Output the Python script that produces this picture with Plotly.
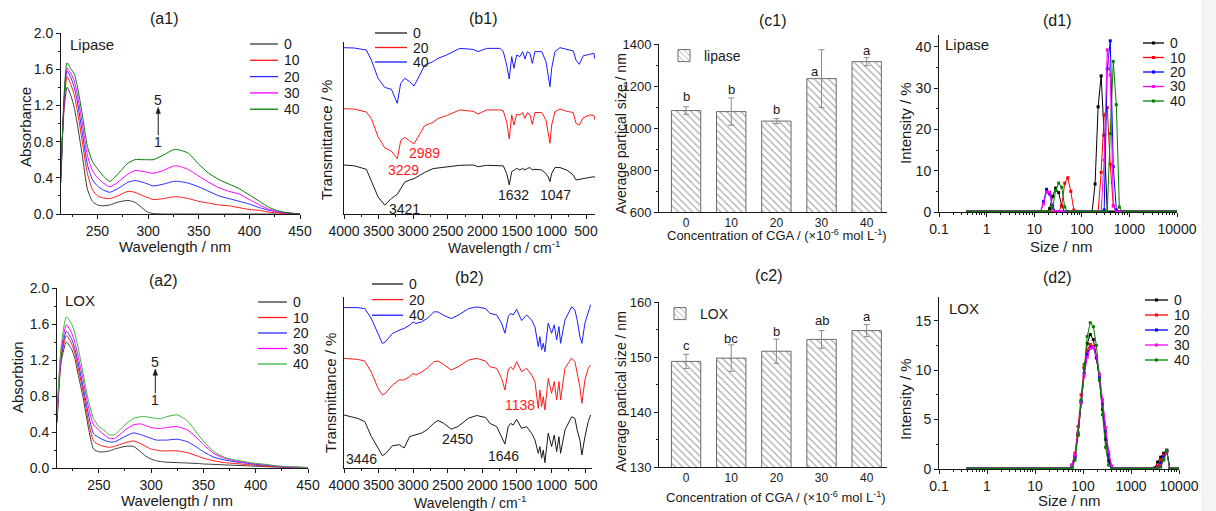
import plotly.graph_objects as go

W, H = 1216, 511
FONT = "Liberation Sans Narrow, Arial Narrow, Liberation Sans, Arial, sans-serif"
INK = "#1a1a1a"


def fx(px):
    return px / W


def fy(py):
    return 1 - py / H


# ------------------------------------------------------------------ data
SERIES5 = ["0", "10", "20", "30", "40"]
SERIES3 = ["0", "20", "40"]
CONC = ["0", "10", "20", "30", "40"]

# (a1) UV-vis, lipase
WL1 = [214, 217, 220, 224, 227, 230, 235, 240, 245, 250, 255, 262, 270, 280, 287, 295, 300, 305,
       315, 325, 330, 340, 350, 360, 370, 380, 390, 400, 410, 420, 430, 440, 450]
A1_0 = [0.55, 1.15, 1.40, 1.30, 1.18, 1.00, 0.65, 0.28, 0.14, 0.10, 0.09, 0.10, 0.13, 0.15, 0.13, 0.06, 0.02, 0.005,
        0, 0, 0, 0, 0, 0, 0, 0, 0, 0, 0, 0, 0, 0, 0]
A1_10 = [0.50, 1.20, 1.52, 1.42, 1.32, 1.15, 0.80, 0.45, 0.27, 0.20, 0.18, 0.17, 0.20, 0.25, 0.24, 0.20, 0.18, 0.16,
         0.17, 0.19, 0.19, 0.17, 0.14, 0.12, 0.10, 0.09, 0.07, 0.05, 0.04, 0.02, 0.01, 0.005, 0.0]
A1_20 = [0.45, 1.25, 1.58, 1.50, 1.40, 1.25, 0.90, 0.55, 0.38, 0.31, 0.27, 0.24, 0.28, 0.35, 0.37, 0.35, 0.33, 0.31,
         0.33, 0.36, 0.36, 0.34, 0.30, 0.25, 0.20, 0.17, 0.14, 0.11, 0.07, 0.04, 0.02, 0.01, 0.0]
A1_30 = [0.40, 1.25, 1.61, 1.55, 1.47, 1.33, 1.00, 0.65, 0.48, 0.40, 0.35, 0.30, 0.35, 0.44, 0.48, 0.47, 0.46, 0.45,
         0.48, 0.53, 0.53, 0.49, 0.42, 0.35, 0.29, 0.25, 0.22, 0.16, 0.10, 0.05, 0.02, 0.01, 0.0]
A1_40 = [0.35, 1.30, 1.67, 1.60, 1.55, 1.42, 1.10, 0.75, 0.58, 0.50, 0.43, 0.36, 0.44, 0.56, 0.60, 0.60, 0.60, 0.60,
         0.65, 0.71, 0.71, 0.67, 0.55, 0.45, 0.38, 0.33, 0.28, 0.21, 0.14, 0.07, 0.03, 0.01, 0.0]

# (a2) UV-vis, LOX
WL2 = [210, 214, 219, 224, 227, 230, 235, 240, 245, 250, 255, 260, 265, 275, 283, 290, 295, 300, 305, 310,
       315, 325, 335, 345, 350, 360, 370, 380, 390, 400, 410, 420, 430, 440, 450]
A2_0 = [0.50, 1.18, 1.40, 1.32, 1.22, 1.05, 0.78, 0.45, 0.21, 0.18, 0.18, 0.19, 0.21, 0.24, 0.24, 0.18, 0.13, 0.10,
        0.08, 0.07, 0.065, 0.06, 0.055, 0.05, 0.045, 0.04, 0.035, 0.03, 0.025, 0.02, 0.015, 0.01, 0.008, 0.006, 0.005]
A2_10 = [0.52, 1.22, 1.47, 1.38, 1.28, 1.12, 0.85, 0.52, 0.30, 0.26, 0.24, 0.23, 0.24, 0.28, 0.30, 0.27, 0.24, 0.21,
         0.20, 0.19, 0.19, 0.19, 0.17, 0.13, 0.11, 0.08, 0.06, 0.05, 0.04, 0.03, 0.02, 0.015, 0.01, 0.007, 0.005]
A2_20 = [0.55, 1.25, 1.52, 1.43, 1.33, 1.18, 0.90, 0.60, 0.38, 0.34, 0.31, 0.29, 0.29, 0.35, 0.39, 0.37, 0.35, 0.33,
         0.31, 0.31, 0.31, 0.32, 0.29, 0.22, 0.18, 0.12, 0.09, 0.07, 0.055, 0.04, 0.03, 0.02, 0.01, 0.008, 0.005]
A2_30 = [0.58, 1.30, 1.59, 1.50, 1.40, 1.25, 0.98, 0.68, 0.48, 0.42, 0.37, 0.33, 0.33, 0.42, 0.48, 0.49, 0.47, 0.45,
         0.44, 0.44, 0.45, 0.46, 0.42, 0.32, 0.26, 0.16, 0.11, 0.08, 0.06, 0.05, 0.035, 0.02, 0.01, 0.008, 0.005]
A2_40 = [0.60, 1.35, 1.68, 1.60, 1.50, 1.35, 1.05, 0.75, 0.55, 0.46, 0.42, 0.37, 0.37, 0.48, 0.55, 0.57, 0.57, 0.56,
         0.55, 0.55, 0.57, 0.59, 0.52, 0.37, 0.30, 0.18, 0.12, 0.09, 0.07, 0.05, 0.04, 0.025, 0.015, 0.01, 0.005]

# (b1) FTIR, lipase (relative transmittance, offset curves)
B1_WN = [4000, 3850, 3677, 3604, 3508, 3411, 3314, 3229, 3180, 3121,
         3049, 2989, 2904, 2832, 2711, 2640, 2518, 2325, 2132, 2060,
         1938, 1889, 1745, 1696, 1647, 1610, 1575, 1542, 1503, 1455,
         1416, 1383, 1349, 1310, 1277, 1238, 1141, 1079, 1046, 1021,
         997, 949, 877, 780, 684, 645, 597, 540, 443, 385, 370]
B1_0 = [28.5, 28.0, 26.0, 19.5, 10.0, 5.2, 9.0, 11.5, 15.0, 18.6,
        19.8, 20.5, 22.5, 24.2, 26.4, 26.8, 27.3, 28.3, 28.5, 27.5,
        28.3, 28.2, 28.1, 28.0, 23.5, 16.9, 24.6, 25.6, 26.5, 25.6,
        26.5, 25.6, 26.5, 27.0, 25.6, 26.0, 25.6, 23.5, 21.5, 18.8,
        23.5, 27.0, 27.0, 25.6, 22.7, 19.8, 20.2, 20.7, 21.5, 21.7, 21.1]
B1_20 = [61.2, 61.0, 59.3, 55.5, 45.0, 38.5, 36.5, 32.2, 42.6, 44.6,
         42.5, 40.7, 46.5, 51.4, 53.3, 55.5, 57.2, 60.5, 59.7, 58.1,
         60.5, 60.5, 60.5, 60.0, 53.5, 43.6, 57.6, 51.7, 58.0, 57.6,
         59.0, 55.6, 59.0, 57.6, 52.1, 59.0, 59.0, 54.6, 47.9, 41.1,
         51.7, 59.5, 61.0, 59.7, 59.0, 52.7, 51.7, 56.0, 57.6, 57.2, 54.6]
B1_40 = [96.7, 96.5, 95.3, 89.5, 78.9, 73.6, 72.5, 64.3, 76.0, 78.9,
         76.9, 74.4, 80.8, 86.6, 88.6, 90.5, 92.4, 96.3, 95.7, 94.4,
         96.3, 96.3, 96.3, 94.4, 86.6, 78.5, 91.5, 84.7, 92.4, 91.5,
         94.4, 90.1, 94.4, 93.4, 87.6, 94.4, 94.4, 88.6, 80.8, 74.0,
         84.7, 94.4, 96.7, 95.9, 94.8, 89.5, 87.0, 92.0, 92.8, 93.4, 90.0]

# (b2) FTIR, LOX
B2_WN = [4000, 3800, 3700, 3604, 3508, 3445, 3400, 3300, 3200, 3130,
         3050, 3001, 2960, 2880, 2800, 2700, 2640, 2560, 2450, 2350,
         2200, 2080, 1950, 1889, 1792, 1720, 1672, 1624, 1590, 1552,
         1503, 1431, 1358, 1286, 1238, 1190, 1166, 1142, 1118, 1094,
         1046, 997, 959, 924, 891, 867, 804, 707, 660, 627,
         588, 559, 515, 467, 433]
B2_0 = [31.0, 29.0, 27.2, 18.4, 11.7, 7.2, 8.3, 13.0, 13.6, 11.7,
        18.4, 19.0, 19.4, 20.4, 22.3, 26.2, 27.8, 26.2, 22.7, 24.3,
        29.1, 30.7, 29.5, 26.1, 24.2, 18.3, 14.0, 24.2, 26.1, 25.1,
        28.5, 23.2, 24.2, 20.3, 16.4, 8.6, 12.5, 5.7, 10.5, 3.1,
        20.3, 12.5, 19.3, 9.6, 18.3, 8.6, 22.2, 30.0, 29.0, 22.2,
        16.4, 7.6, 18.3, 27.1, 31.0]
B2_20 = [64.1, 63.5, 62.5, 56.0, 46.6, 42.7, 43.7, 48.5, 51.5, 51.5,
         53.4, 55.3, 54.4, 56.0, 58.3, 62.1, 62.5, 60.6, 57.3, 59.2,
         63.1, 64.1, 62.5, 59.2, 58.3, 52.4, 45.6, 57.3, 59.2, 57.5,
         62.2, 56.3, 58.3, 54.4, 50.5, 34.9, 45.6, 35.8, 41.7, 33.9,
         52.4, 43.7, 50.5, 39.8, 50.5, 39.8, 58.3, 64.2, 62.2, 56.3,
         47.5, 37.8, 51.5, 58.3, 60.2]
B2_40 = [93.8, 93.8, 93.2, 87.4, 78.6, 72.8, 73.8, 78.6, 80.6, 81.6,
         83.5, 85.4, 84.5, 85.4, 87.4, 91.3, 91.3, 89.3, 87.4, 89.3,
         93.2, 94.2, 93.2, 90.4, 89.5, 84.7, 78.8, 88.5, 90.4, 89.5,
         92.8, 86.2, 89.5, 86.5, 82.6, 71.0, 76.8, 69.0, 72.9, 68.0,
         84.7, 78.8, 83.7, 75.0, 82.7, 72.9, 86.5, 94.3, 92.4, 86.5,
         76.8, 72.9, 84.7, 91.6, 95.5]

# (c1)/(c2) average particle size
C1_VAL = [1083, 1078, 1033, 1235, 1316]
C1_ERR = [18, 65, 12, 138, 19]
C1_LET = ["b", "b", "b", "a", "a"]
C1_LET_Y = [1148, 1183, 1088, 1271, 1371]
C2_VAL = [149.2, 149.8, 151.05, 153.2, 154.8]
C2_ERR = [1.3, 2.4, 2.2, 1.6, 1.1]
C2_LET = ["c", "bc", "b", "ab", "a"]
C2_LET_Y = [152.1, 153.4, 154.6, 156.6, 157.4]

# (d1)/(d2) DLS size distributions
SIZES = [0.4, 0.4632, 0.5365, 0.6213, 0.7195, 0.8332, 0.9649, 1.117, 1.294, 1.499,
         1.736, 2.01, 2.328, 2.696, 3.122, 3.615, 4.187, 4.849, 5.615, 6.503,
         7.531, 8.721, 10.1, 11.7, 13.54, 15.69, 18.17, 21.04, 24.36, 28.21,
         32.67, 37.84, 43.82, 50.75, 58.77, 68.06, 78.82, 91.28, 105.7, 122.4,
         141.8, 164.2, 190.1, 220.2, 255.0, 295.3, 342.0, 396.1, 458.7, 531.2,
         615.1, 712.4, 825.0, 955.4, 1106, 1281, 1484, 1718, 1990, 2305,
         2669, 3091, 3580, 4145, 4801, 5560, 6439, 7456, 8635, 10000]
D1_0 = [0, 0, 0, 0, 0, 0, 0, 0, 0, 0,
        0, 0, 0, 0, 0, 0, 0, 0, 0, 0,
        0, 0, 0, 0, 0, 0, 0, 0.8, 3.8, 5.8,
        4.7, 1.5, 0, 0, 0, 0, 0, 0, 0, 0,
        0, 0, 6.8, 25.5, 33.0, 18.6, 0, 0, 0, 0,
        0, 0, 0, 0, 0, 0, 0, 0, 0, 0,
        0, 0, 0, 0, 0, 0, 0, 0, 0, 0]
D1_10 = [0, 0, 0, 0, 0, 0, 0, 0, 0, 0,
         0, 0, 0, 0, 0, 0, 0, 0, 0, 0,
         0, 0, 0, 0, 0, 0, 0, 0, 0, 0,
         0, 1.5, 7.0, 8.3, 5.0, 0.5, 0, 0, 0, 0,
         0, 0, 0, 0, 9.6, 23.5, 25.3, 11.6, 1.5, 0,
         0, 0, 0, 0, 0, 0, 0, 0, 0, 0,
         0, 0, 0, 0, 0, 0, 0, 0, 0, 0]
D1_20 = [0, 0, 0, 0, 0, 0, 0, 0, 0, 0,
         0, 0, 0, 0, 0, 0, 0, 0, 0, 0,
         0, 0, 0, 0, 0, 2.5, 5.5, 4.4, 1.5, 0,
         0, 0, 0, 0, 0, 0, 0, 0, 0, 0,
         0, 0, 0, 0, 0, 0.5, 34.7, 41.5, 11.0, 0.5,
         0, 0, 0, 0, 0, 0, 0, 0, 0, 0,
         0, 0, 0, 0, 0, 0, 0, 0, 0, 0]
D1_30 = [0, 0, 0, 0, 0, 0, 0, 0, 0, 0,
         0, 0, 0, 0, 0, 0, 0, 0, 0, 0,
         0, 0, 0, 0, 0, 2.0, 4.8, 4.8, 0.8, 0,
         0, 0, 0, 0, 0, 0, 0, 0, 0, 0,
         0, 0, 0, 0, 0, 12.6, 39.3, 33.2, 1.5, 0,
         0, 0, 0, 0, 0, 0, 0, 0, 0, 0,
         0, 0, 0, 0, 0, 0, 0, 0, 0, 0]
D1_40 = [0, 0, 0, 0, 0, 0, 0, 0, 0, 0,
         0, 0, 0, 0, 0, 0, 0, 0, 0, 0,
         0, 0, 0, 0, 0, 0, 0, 0, 1.0, 5.2,
         7.0, 6.0, 1.2, 0, 0, 0, 0, 0, 0, 0,
         0, 0, 0, 0, 0, 0, 0, 19.0, 36.5, 26.0,
         1.2, 0, 0, 0, 0, 0, 0, 0, 0, 0,
         0, 0, 0, 0, 0, 0, 0, 0, 0, 0]
D2_0 = [0, 0, 0, 0, 0, 0, 0, 0, 0, 0,
        0, 0, 0, 0, 0, 0, 0, 0, 0, 0,
        0, 0, 0, 0, 0, 0, 0, 0, 0, 0,
        0, 0, 0, 0, 0.2, 1.2, 3.5, 6.8, 10.2, 12.7,
        13.6, 13.1, 11.4, 9.0, 6.0, 3.0, 0.8, 0, 0, 0,
        0, 0, 0, 0, 0, 0, 0, 0, 0, 0,
        0, 0.1, 0.7, 1.2, 1.6, 1.9, 0, 0, 0, 0]
D2_10 = [0, 0, 0, 0, 0, 0, 0, 0, 0, 0,
         0, 0, 0, 0, 0, 0, 0, 0, 0, 0,
         0, 0, 0, 0, 0, 0, 0, 0, 0, 0,
         0, 0, 0, 0, 0.4, 1.6, 4.3, 7.5, 10.3, 12.0,
         12.6, 12.4, 11.2, 9.2, 6.6, 3.8, 1.4, 0.2, 0, 0,
         0, 0, 0, 0, 0, 0, 0, 0, 0, 0,
         0, 0, 0.3, 0.9, 1.4, 1.8, 0, 0, 0, 0]
D2_20 = [0, 0, 0, 0, 0, 0, 0, 0, 0, 0,
         0, 0, 0, 0, 0, 0, 0, 0, 0, 0,
         0, 0, 0, 0, 0, 0, 0, 0, 0, 0,
         0, 0, 0, 0, 0.3, 1.3, 3.6, 6.8, 9.7, 11.6,
         12.3, 12.3, 11.3, 9.3, 6.6, 3.8, 1.4, 0.2, 0, 0,
         0, 0, 0, 0, 0, 0, 0, 0, 0, 0,
         0, 0, 0, 0.6, 1.2, 1.8, 0, 0, 0, 0]
D2_30 = [0, 0, 0, 0, 0, 0, 0, 0, 0, 0,
         0, 0, 0, 0, 0, 0, 0, 0, 0, 0,
         0, 0, 0, 0, 0, 0, 0, 0, 0, 0,
         0, 0, 0, 0, 0.4, 1.5, 3.7, 6.7, 9.4, 11.3,
         12.2, 12.3, 11.5, 9.6, 7.0, 4.2, 1.7, 0.3, 0, 0,
         0, 0, 0, 0, 0, 0, 0, 0, 0, 0,
         0, 0, 0, 0.3, 1.0, 1.7, 0, 0, 0, 0]
D2_40 = [0, 0, 0, 0, 0, 0, 0, 0, 0, 0,
         0, 0, 0, 0, 0, 0, 0, 0, 0, 0,
         0, 0, 0, 0, 0, 0, 0, 0, 0, 0,
         0, 0, 0, 0, 0.1, 0.9, 3.4, 7.0, 10.6, 13.4,
         14.8, 14.4, 12.5, 9.0, 5.5, 2.2, 0.4, 0, 0, 0,
         0, 0, 0, 0, 0, 0, 0, 0, 0, 0,
         0, 0, 0, 0.2, 0.9, 1.9, 0, 0, 0, 0]

# ------------------------------------------------------------------ styles
UV1_COL = ["#3a3a3a", "#ff1a1a", "#2b2bff", "#ff00ff", "#007d00"]
UV2_COL = ["#3a3a3a", "#ff1a1a", "#2b2bff", "#ff00ff", "#3cb83c"]
IR_COL = ["#1a1a1a", "#ff1a1a", "#1a1aff"]
DLS_COL = ["#000000", "#ff0000", "#0000ff", "#ff00ff", "#008000"]

fig = go.Figure()

for ys, col, nm in zip([A1_0, A1_10, A1_20, A1_30, A1_40], UV1_COL, SERIES5):
    fig.add_trace(go.Scatter(x=WL1, y=ys, mode="lines", line=dict(color=col, width=1, shape="spline", smoothing=0.6),
                             name=nm, showlegend=False, xaxis="x", yaxis="y"))
for ys, col, nm in zip([B1_0, B1_20, B1_40], IR_COL, SERIES3):
    fig.add_trace(go.Scatter(x=B1_WN, y=ys, mode="lines", line=dict(color=col, width=1),
                             name=nm, showlegend=False, xaxis="x2", yaxis="y2"))
BAR_MARKER = dict(color="white", line=dict(color="#6a6a6a", width=1),
                  pattern=dict(shape="\\", fgcolor="#4a4a4a", bgcolor="white", size=5, solidity=0.22))
fig.add_trace(go.Bar(x=CONC, y=C1_VAL, width=0.65, name="lipase", legend="legend", showlegend=True,
                     error_y=dict(type="data", array=C1_ERR, color="#8c8c8c", thickness=1, width=3),
                     marker=BAR_MARKER, xaxis="x3", yaxis="y3"))
for ys, col, nm in zip([D1_0, D1_10, D1_20, D1_30, D1_40], DLS_COL, SERIES5):
    fig.add_trace(go.Scatter(x=SIZES, y=ys, mode="lines+markers", line=dict(color=col, width=1),
                             marker=dict(symbol="square", size=3, color=col),
                             name=nm, showlegend=False, xaxis="x4", yaxis="y4"))
for ys, col, nm in zip([A2_0, A2_10, A2_20, A2_30, A2_40], UV2_COL, SERIES5):
    fig.add_trace(go.Scatter(x=WL2, y=ys, mode="lines", line=dict(color=col, width=1, shape="spline", smoothing=0.6),
                             name=nm, showlegend=False, xaxis="x5", yaxis="y5"))
for ys, col, nm in zip([B2_0, B2_20, B2_40], IR_COL, SERIES3):
    fig.add_trace(go.Scatter(x=B2_WN, y=ys, mode="lines", line=dict(color=col, width=1),
                             name=nm, showlegend=False, xaxis="x6", yaxis="y6"))
fig.add_trace(go.Bar(x=CONC, y=C2_VAL, width=0.65, name="LOX", legend="legend2", showlegend=True,
                     error_y=dict(type="data", array=C2_ERR, color="#8c8c8c", thickness=1, width=3),
                     marker=BAR_MARKER, xaxis="x7", yaxis="y7"))
for ys, col, nm in zip([D2_0, D2_10, D2_20, D2_30, D2_40], DLS_COL, SERIES5):
    fig.add_trace(go.Scatter(x=SIZES, y=ys, mode="lines+markers", line=dict(color=col, width=1),
                             marker=dict(symbol="square", size=3, color=col),
                             name=nm, showlegend=False, xaxis="x8", yaxis="y8"))

TICKFONT = dict(family=FONT, size=14, color=INK)
SMALLTICK = dict(family=FONT, size=13, color=INK)
CATTICK = dict(family=FONT, size=12, color=INK)


def ax(xdom, rng, anchor, **kw):
    d = dict(domain=xdom, range=rng, anchor=anchor, showline=True, linecolor=INK, linewidth=1,
             ticks="outside", ticklen=4, tickwidth=1, tickcolor=INK, showgrid=False, zeroline=False,
             tickfont=TICKFONT, mirror=False, automargin=False)
    d.update(kw)
    return d


def mnr(dt):
    return dict(dtick=dt, ticks="outside", ticklen=2, tickwidth=1, tickcolor=INK)


LOG_MAJOR = [0.1, 1, 10, 100, 1000, 10000]
LOG_TEXT = ["0.1", "1", "10", "100", "1000", "10000"]
LOG_MINOR = [m * 10 ** e for e in range(-1, 4) for m in range(2, 10)]
logminor = dict(tickmode="array", tickvals=LOG_MINOR, ticks="outside", ticklen=2, tickwidth=1, tickcolor=INK)

layout = dict(
    width=W, height=H, margin=dict(l=0, r=0, t=0, b=0, pad=0), autosize=False,
    paper_bgcolor="white", plot_bgcolor="white", showlegend=True,
    font=dict(family=FONT, size=14, color=INK),
    # row 1
    xaxis=ax([fx(61), fx(300)], [214, 450], "y", dtick=50, tick0=0, minor=mnr(25)),
    yaxis=ax([fy(214), fy(33)], [0, 2], "x", dtick=0.4, tick0=0, tickformat=".1f", minor=mnr(0.2)),
    xaxis2=ax([fx(344), fx(595)], [4000, 370], "y2", dtick=500, tick0=0, minor=mnr(250)),
    yaxis2=ax([fy(214), fy(42)], [0, 100], "x2", ticks="", showticklabels=False),
    xaxis3=ax([fx(659), fx(887)], [-0.6, 4.45], "y3", type="category", ticks="", tickfont=CATTICK),
    yaxis3=ax([fy(212), fy(44)], [600, 1400], "x3", dtick=200, tick0=0, minor=mnr(100), tickfont=SMALLTICK),
    xaxis4=ax([fx(939), fx(1177)], [-1, 4], "y4", type="log", tickmode="array", tickvals=LOG_MAJOR,
              ticktext=LOG_TEXT, minor=logminor),
    yaxis4=ax([fy(212), fy(35)], [0, 42.9], "x4", dtick=10, tick0=0, minor=mnr(5)),
    # row 2
    xaxis5=ax([fx(57), fx(308)], [210, 450], "y5", dtick=50, tick0=0, minor=mnr(25)),
    yaxis5=ax([fy(468), fy(288)], [0, 2], "x5", dtick=0.4, tick0=0, tickformat=".1f", minor=mnr(0.2)),
    xaxis6=ax([fx(344), fx(591.5)], [4000, 420], "y6", dtick=500, tick0=0, minor=mnr(250)),
    yaxis6=ax([fy(468), fy(297)], [0, 100], "x6", ticks="", showticklabels=False),
    xaxis7=ax([fx(659), fx(887)], [-0.6, 4.45], "y7", type="category", ticks="", tickfont=CATTICK),
    yaxis7=ax([fy(467), fy(302)], [130, 160], "x7", dtick=10, tick0=0, minor=mnr(5), tickfont=SMALLTICK),
    xaxis8=ax([fx(939), fx(1179)], [-1, 4], "y8", type="log", tickmode="array", tickvals=LOG_MAJOR,
              ticktext=LOG_TEXT, minor=logminor),
    yaxis8=ax([fy(469), fy(297)], [0, 17.4], "x8", dtick=5, tick0=0, minor=mnr(2.5)),
    legend=dict(x=fx(664), y=fy(40), xanchor="left", yanchor="top", bgcolor="rgba(0,0,0,0)",
                font=dict(family=FONT, size=14, color=INK), itemwidth=30),
    legend2=dict(x=fx(660), y=fy(298), xanchor="left", yanchor="top", bgcolor="rgba(0,0,0,0)",
                 font=dict(family=FONT, size=14, color=INK), itemwidth=30),
)

shapes = [dict(type="rect", xref="paper", yref="paper", x0=fx(1201), x1=1, y0=0, y1=1,
               fillcolor="#f4f4f4", line=dict(width=0), layer="below")]
annotations = []


def note(x, y, text, size=14, color=INK, xanchor="center", yanchor="middle", angle=0, xref="paper", yref="paper",
         xshift=0):
    annotations.append(dict(x=x, y=y, xref=xref, yref=yref, text=text, showarrow=False, xanchor=xanchor,
                            yanchor=yanchor, textangle=angle, xshift=xshift,
                            font=dict(family=FONT, size=size, color=color)))


def line_legend(x0, y0, dy, length, labels, colors, markers=False):
    for i, (lab, col) in enumerate(zip(labels, colors)):
        yy = y0 + i * dy
        shapes.append(dict(type="line", xref="paper", yref="paper", x0=fx(x0), x1=fx(x0 + length),
                           y0=fy(yy), y1=fy(yy), line=dict(color=col, width=1.3)))
        if markers:
            c = x0 + length / 2
            shapes.append(dict(type="rect", xref="paper", yref="paper", x0=fx(c - 1.5), x1=fx(c + 1.5),
                               y0=fy(yy + 1.5), y1=fy(yy - 1.5), fillcolor=col, line=dict(width=0)))
        note(fx(x0 + length + 4), fy(yy), lab, xanchor="left")


# legends
line_legend(250, 44, 16.3, 28, SERIES5, UV1_COL)
line_legend(375, 33, 14.5, 32, SERIES3, IR_COL)
line_legend(1143, 43, 14.5, 21, SERIES5, DLS_COL, markers=True)
line_legend(258, 302, 15.5, 29, SERIES5, UV2_COL)
line_legend(372, 284, 15.6, 31, SERIES3, IR_COL)
line_legend(1145, 300, 15, 23, SERIES5, DLS_COL, markers=True)

# panel titles
for lab, px, py in [("(a1)", 164, 18), ("(b1)", 483, 18), ("(c1)", 773, 20), ("(d1)", 1057, 20),
                    ("(a2)", 163, 280), ("(b2)", 469, 277), ("(c2)", 769, 275), ("(d2)", 1057, 277)]:
    note(fx(px), fy(py), lab, size=16)

# in-panel labels
note(fx(68), fy(44), "Lipase", size=15, xanchor="left")
note(fx(63), fy(300), "LOX", size=15, xanchor="left")
note(fx(943), fy(44), "Lipase", size=15, xanchor="left")
note(fx(947), fy(308), "LOX", size=15, xanchor="left")

# axis titles
XT = "Wavelength / nm"
note(fx(175), fy(246), XT, size=15)
note(fx(177), fy(500), XT, size=15)
note(fx(504), fy(247), "Wavelength / cm<sup>-1</sup>", size=14)
note(fx(470), fy(502), "Wavelength / cm<sup>-1</sup>", size=14)
CX = "Concentration of CGA / (×10<sup>-6</sup> mol L<sup>-1</sup>)"
note(fx(777), fy(235), CX, size=13)
note(fx(776), fy(497), CX, size=13)
note(fx(1061), fy(246), "Size / nm", size=15)
note(fx(1069), fy(500), "Size / nm", size=15)
note(fx(25), fy(127), "Absorbance", size=15, angle=-90)
note(fx(17), fy(377), "Absorbtion", size=15, angle=-90)
note(fx(326), fy(140), "Transmittance / %", size=15, angle=-90)
note(fx(330), fy(393), "Transmittance / %", size=15, angle=-90)
note(fx(621), fy(134), "Average partical size / nm", size=14, angle=-90)
note(fx(621), fy(392), "Average partical size / nm", size=14, angle=-90)
note(fx(905), fy(123), "Intensity / %", size=15, angle=-90)
note(fx(905), fy(399), "Intensity / %", size=15, angle=-90)

# 1 -> 5 arrows in UV panels
for xr, yr, xa, top, bot in [("x", "y", 310, 1.26, 0.80), ("x5", "y5", 304, 1.18, 0.76)]:
    shapes.append(dict(type="line", xref=xr, yref=yr, x0=xa, x1=xa, y0=bot + 0.07, y1=top - 0.10,
                       line=dict(color=INK, width=1)))
    shapes.append(dict(type="path", xref=xr, yref=yr,
                       path=f"M {xa - 2.2},{top - 0.15} L {xa},{top - 0.08} L {xa + 2.2},{top - 0.15} Z",
                       fillcolor=INK, line=dict(color=INK, width=0.5)))
    note(xa, top, "5", xref=xr, yref=yr)
    note(xa, bot, "1", xref=xr, yref=yr)

# FTIR peak labels
RED = "#ff1a1a"
note(2830, 35.5, "2989", color=RED, xref="x2", yref="y2")
note(3142, 25.6, "3229", color=RED, xref="x2", yref="y2")
note(3132, 2.7, "3421", xref="x2", yref="y2")
note(1542, 11, "1632", xref="x2", yref="y2")
note(939, 11, "1047", xref="x2", yref="y2")
note(3744, 5.1, "3446", xref="x6", yref="y6")
note(2356, 17, "2450", xref="x6", yref="y6")
note(1686, 7, "1646", xref="x6", yref="y6")
note(1455, 36.8, "1138", color=RED, xref="x6", yref="y6")

# significance letters (category axes use the serial index of each category)
for i, c in enumerate(CONC):
    sh = -7 if C1_LET_Y[i] < C1_VAL[i] + C1_ERR[i] else 0
    note(i, C1_LET_Y[i], C1_LET[i], size=13, xref="x3", yref="y3", xshift=sh)
    note(i, C2_LET_Y[i], C2_LET[i], size=13, xref="x7", yref="y7")

layout["shapes"] = shapes
layout["annotations"] = annotations
fig.update_layout(**layout)
fig.write_html("out.html", config={"displayModeBar": False},
               post_script="document.body.style.margin='0px';document.documentElement.style.overflow='hidden';")
